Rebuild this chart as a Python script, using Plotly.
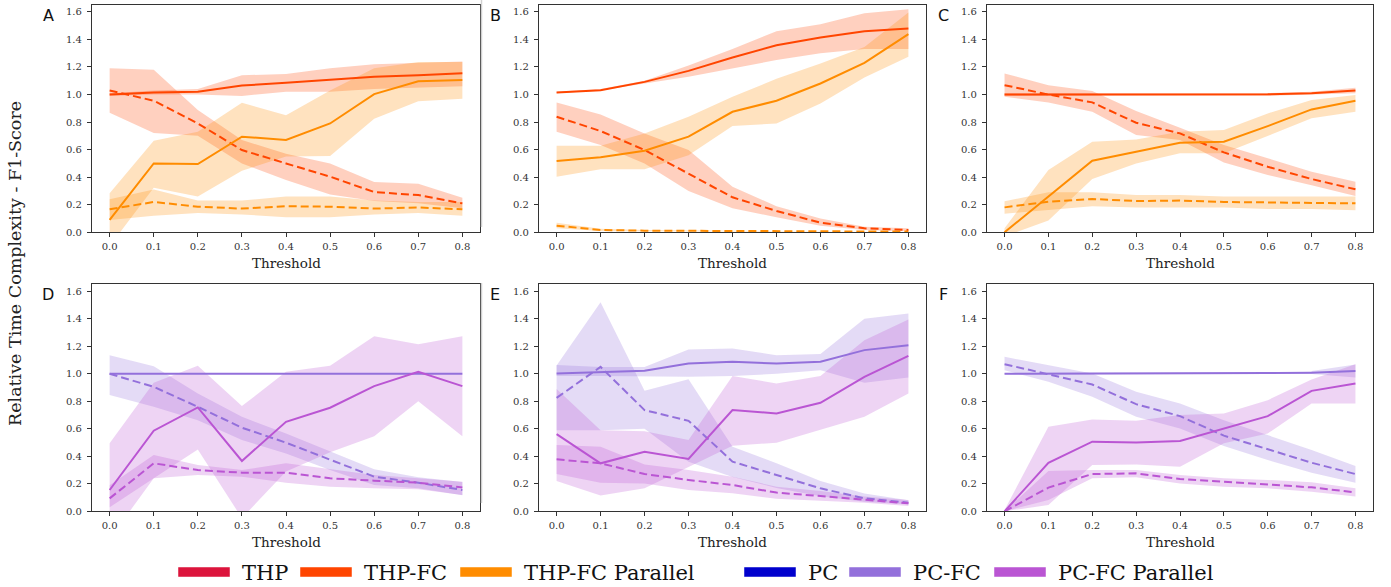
import plotly.graph_objects as go

# ---------------------------------------------------------------- data
THRESHOLDS = [0.0, 0.1, 0.2, 0.3, 0.4, 0.5, 0.6, 0.7, 0.8]
Y_TICKS = [0.0, 0.2, 0.4, 0.6, 0.8, 1.0, 1.2, 1.4, 1.6]
PANEL_LABELS = ["A", "B", "C", "D", "E", "F"]
LEGEND_NAMES = ["THP", "THP-FC", "THP-FC Parallel", "PC", "PC-FC", "PC-FC Parallel"]
X_TITLE = "Threshold"
Y_TITLE = "Relative Time Complexity - F1-Score"

# Panel A (THP)
A_FC_TIME = [1.00, 1.015, 1.02, 1.065, 1.085, 1.105, 1.13, 1.14, 1.155]
A_FC_TIME_LO = [0.99, 1.00, 1.00, 0.99, 1.02, 1.02, 1.04, 1.05, 1.06]
A_FC_TIME_HI = [1.01, 1.03, 1.04, 1.14, 1.15, 1.19, 1.22, 1.23, 1.24]
A_FC_F1 = [1.03, 0.955, 0.79, 0.597, 0.50, 0.404, 0.292, 0.27, 0.21]
A_FC_F1_LO = [0.868, 0.72, 0.70, 0.50, 0.38, 0.275, 0.227, 0.21, 0.175]
A_FC_F1_HI = [1.19, 1.18, 0.887, 0.67, 0.57, 0.50, 0.365, 0.353, 0.25]
A_PAR_TIME = [0.09, 0.50, 0.495, 0.694, 0.67, 0.79, 1.003, 1.097, 1.105]
A_PAR_TIME_LO = [-0.1, 0.324, 0.26, 0.447, 0.55, 0.553, 0.824, 0.952, 0.97]
A_PAR_TIME_HI = [0.283, 0.665, 0.73, 0.94, 0.85, 1.03, 1.19, 1.237, 1.237]
A_PAR_F1 = [0.167, 0.22, 0.186, 0.172, 0.189, 0.186, 0.172, 0.18, 0.167]
A_PAR_F1_LO = [0.09, 0.12, 0.14, 0.13, 0.11, 0.11, 0.13, 0.14, 0.12]
A_PAR_F1_HI = [0.24, 0.31, 0.23, 0.23, 0.26, 0.26, 0.23, 0.22, 0.22]

# Panel B (THP)
B_FC_TIME = [1.015, 1.032, 1.092, 1.172, 1.269, 1.358, 1.414, 1.46, 1.479]
B_FC_TIME_LO = [1.01, 1.03, 1.08, 1.13, 1.19, 1.25, 1.30, 1.33, 1.33]
B_FC_TIME_HI = [1.02, 1.04, 1.10, 1.21, 1.33, 1.46, 1.51, 1.59, 1.62]
B_FC_F1 = [0.839, 0.735, 0.597, 0.423, 0.254, 0.155, 0.07, 0.029, 0.017]
B_FC_F1_LO = [0.73, 0.633, 0.50, 0.30, 0.174, 0.109, 0.048, 0.017, 0.007]
B_FC_F1_HI = [0.943, 0.856, 0.718, 0.597, 0.33, 0.19, 0.10, 0.04, 0.03]
B_PAR_TIME = [0.517, 0.544, 0.592, 0.694, 0.875, 0.955, 1.08, 1.23, 1.438]
B_PAR_TIME_LO = [0.404, 0.457, 0.457, 0.56, 0.771, 0.79, 0.935, 1.124, 1.274]
B_PAR_TIME_HI = [0.628, 0.628, 0.718, 0.839, 0.984, 1.114, 1.225, 1.346, 1.595]
B_PAR_F1 = [0.048, 0.017, 0.012, 0.01, 0.008, 0.007, 0.006, 0.006, 0.005]
B_PAR_F1_LO = [0.03, 0.01, 0.008, 0.006, 0.005, 0.004, 0.004, 0.004, 0.003]
B_PAR_F1_HI = [0.07, 0.025, 0.016, 0.014, 0.011, 0.01, 0.009, 0.009, 0.008]

# Panel C (THP)
C_FC_TIME = [1.0, 1.0, 1.0, 1.0, 1.0, 1.0, 1.002, 1.01, 1.03]
C_FC_TIME_LO = [0.99, 0.99, 0.99, 0.99, 0.99, 0.99, 0.99, 1.0, 1.01]
C_FC_TIME_HI = [1.01, 1.01, 1.01, 1.01, 1.01, 1.01, 1.01, 1.02, 1.05]
C_FC_F1 = [1.068, 1.0, 0.943, 0.795, 0.718, 0.58, 0.476, 0.387, 0.312]
C_FC_F1_LO = [0.984, 0.943, 0.875, 0.706, 0.67, 0.507, 0.416, 0.341, 0.263]
C_FC_F1_HI = [1.153, 1.068, 1.025, 0.88, 0.759, 0.633, 0.537, 0.44, 0.367]
C_PAR_TIME = [0.0, 0.259, 0.52, 0.585, 0.65, 0.657, 0.771, 0.892, 0.955]
C_PAR_TIME_LO = [-0.03, 0.085, 0.387, 0.50, 0.573, 0.573, 0.698, 0.827, 0.875]
C_PAR_TIME_HI = [0.03, 0.452, 0.657, 0.674, 0.73, 0.742, 0.863, 0.96, 0.996]
C_PAR_F1 = [0.181, 0.222, 0.242, 0.227, 0.23, 0.22, 0.217, 0.215, 0.21]
C_PAR_F1_LO = [0.135, 0.16, 0.19, 0.18, 0.18, 0.18, 0.17, 0.17, 0.16]
C_PAR_F1_HI = [0.225, 0.29, 0.29, 0.27, 0.27, 0.26, 0.26, 0.26, 0.26]

# Panel D (PC)
D_FC_TIME = [1.0, 1.0, 1.0, 1.0, 1.0, 1.0, 1.0, 1.0, 1.0]
D_FC_TIME_LO = [1.0, 1.0, 1.0, 1.0, 1.0, 1.0, 1.0, 1.0, 1.0]
D_FC_TIME_HI = [1.0, 1.0, 1.0, 1.0, 1.0, 1.0, 1.0, 1.0, 1.0]
D_FC_F1 = [1.0, 0.905, 0.76, 0.608, 0.499, 0.373, 0.252, 0.208, 0.155]
D_FC_F1_LO = [0.845, 0.76, 0.663, 0.518, 0.421, 0.30, 0.191, 0.167, 0.116]
D_FC_F1_HI = [1.135, 1.055, 0.857, 0.687, 0.566, 0.433, 0.305, 0.247, 0.213]
D_PAR_TIME = [0.155, 0.586, 0.755, 0.366, 0.651, 0.753, 0.91, 1.014, 0.91]
D_PAR_TIME_LO = [-0.2, 0.24, 0.45, -0.05, 0.29, 0.43, 0.545, 0.80, 0.545]
D_PAR_TIME_HI = [0.494, 0.934, 1.058, 0.765, 1.014, 1.058, 1.273, 1.215, 1.273]
D_PAR_F1 = [0.094, 0.349, 0.30, 0.281, 0.281, 0.24, 0.223, 0.208, 0.174]
D_PAR_F1_LO = [0.03, 0.24, 0.264, 0.252, 0.208, 0.179, 0.167, 0.16, 0.119]
D_PAR_F1_HI = [0.19, 0.41, 0.336, 0.30, 0.349, 0.305, 0.264, 0.24, 0.215]

# Panel E (PC)
E_FC_TIME = [1.002, 1.014, 1.022, 1.075, 1.087, 1.075, 1.087, 1.172, 1.208]
E_FC_TIME_LO = [0.983, 0.983, 0.983, 0.978, 0.983, 1.0, 1.026, 0.934, 0.973]
E_FC_TIME_HI = [1.063, 1.05, 1.05, 1.176, 1.184, 1.135, 1.143, 1.40, 1.438]
E_FC_F1 = [0.825, 1.05, 0.736, 0.658, 0.361, 0.264, 0.167, 0.094, 0.063]
E_FC_F1_LO = [0.59, 0.59, 0.60, 0.36, 0.25, 0.17, 0.11, 0.07, 0.05]
E_FC_F1_HI = [1.06, 1.52, 0.876, 0.96, 0.47, 0.35, 0.22, 0.13, 0.08]
E_PAR_TIME = [0.561, 0.349, 0.433, 0.38, 0.736, 0.712, 0.789, 0.978, 1.13]
E_PAR_TIME_LO = [0.22, 0.114, 0.167, 0.324, 0.477, 0.499, 0.595, 0.687, 0.857]
E_PAR_TIME_HI = [0.89, 0.59, 0.583, 0.518, 0.983, 0.93, 0.983, 1.244, 1.394]
E_PAR_F1 = [0.378, 0.349, 0.271, 0.228, 0.191, 0.136, 0.111, 0.082, 0.058]
E_PAR_F1_LO = [0.271, 0.208, 0.203, 0.155, 0.131, 0.092, 0.077, 0.063, 0.039]
E_PAR_F1_HI = [0.482, 0.47, 0.341, 0.30, 0.252, 0.179, 0.148, 0.107, 0.082]

# Panel F (PC)
F_FC_TIME = [1.0, 1.0, 1.0, 1.0, 1.0, 1.002, 1.005, 1.008, 1.021]
F_FC_TIME_LO = [0.995, 0.995, 0.995, 0.995, 0.995, 0.997, 0.998, 0.998, 0.973]
F_FC_TIME_HI = [1.005, 1.005, 1.005, 1.005, 1.005, 1.007, 1.01, 1.02, 1.067]
F_FC_F1 = [1.07, 0.997, 0.922, 0.779, 0.692, 0.55, 0.45, 0.353, 0.271]
F_FC_F1_LO = [1.026, 0.942, 0.833, 0.687, 0.603, 0.474, 0.373, 0.281, 0.208]
F_FC_F1_HI = [1.123, 1.063, 1.002, 0.869, 0.784, 0.663, 0.554, 0.445, 0.329]
F_PAR_TIME = [0.0, 0.353, 0.506, 0.501, 0.511, 0.603, 0.692, 0.876, 0.93]
F_PAR_TIME_LO = [0.0, 0.046, 0.336, 0.341, 0.324, 0.494, 0.566, 0.784, 0.784]
F_PAR_TIME_HI = [0.01, 0.615, 0.668, 0.658, 0.70, 0.712, 0.808, 0.959, 1.07]
F_PAR_F1 = [0.0, 0.172, 0.271, 0.276, 0.235, 0.213, 0.196, 0.174, 0.138]
F_PAR_F1_LO = [0.0, 0.082, 0.24, 0.247, 0.203, 0.179, 0.167, 0.143, 0.107]
F_PAR_F1_HI = [0.0, 0.293, 0.30, 0.30, 0.264, 0.24, 0.228, 0.211, 0.167]

# ---------------------------------------------------------------- styling
W, H = 1391, 587
COLORS = {
    "THP": (220, 20, 60),
    "THP-FC": (255, 69, 0),
    "THP-FC Parallel": (255, 140, 0),
    "PC": (0, 0, 205),
    "PC-FC": (147, 112, 219),
    "PC-FC Parallel": (186, 85, 211),
}
SERIF = "DejaVu Serif"
SANS = "DejaVu Sans"
AXIS_COLOR = "#333333"

# plot-area boxes in pixels: (left, right) per column, (top, bottom) per row
COL_PX = [(92, 480), (539, 926), (987, 1373)]
ROW_PX = [(5, 232.3), (284.4, 511.3)]


def rgb(c, a=None):
    if a is None:
        return "rgb(%d,%d,%d)" % c
    return "rgba(%d,%d,%d,%.3f)" % (c + (a,))


def px_x(x):
    return x / W


def px_y(y):
    return 1 - y / H


panels = [
    ("THP", [(A_FC_TIME, A_FC_TIME_LO, A_FC_TIME_HI), (A_FC_F1, A_FC_F1_LO, A_FC_F1_HI),
             (A_PAR_TIME, A_PAR_TIME_LO, A_PAR_TIME_HI), (A_PAR_F1, A_PAR_F1_LO, A_PAR_F1_HI)]),
    ("THP", [(B_FC_TIME, B_FC_TIME_LO, B_FC_TIME_HI), (B_FC_F1, B_FC_F1_LO, B_FC_F1_HI),
             (B_PAR_TIME, B_PAR_TIME_LO, B_PAR_TIME_HI), (B_PAR_F1, B_PAR_F1_LO, B_PAR_F1_HI)]),
    ("THP", [(C_FC_TIME, C_FC_TIME_LO, C_FC_TIME_HI), (C_FC_F1, C_FC_F1_LO, C_FC_F1_HI),
             (C_PAR_TIME, C_PAR_TIME_LO, C_PAR_TIME_HI), (C_PAR_F1, C_PAR_F1_LO, C_PAR_F1_HI)]),
    ("PC", [(D_FC_TIME, D_FC_TIME_LO, D_FC_TIME_HI), (D_FC_F1, D_FC_F1_LO, D_FC_F1_HI),
            (D_PAR_TIME, D_PAR_TIME_LO, D_PAR_TIME_HI), (D_PAR_F1, D_PAR_F1_LO, D_PAR_F1_HI)]),
    ("PC", [(E_FC_TIME, E_FC_TIME_LO, E_FC_TIME_HI), (E_FC_F1, E_FC_F1_LO, E_FC_F1_HI),
            (E_PAR_TIME, E_PAR_TIME_LO, E_PAR_TIME_HI), (E_PAR_F1, E_PAR_F1_LO, E_PAR_F1_HI)]),
    ("PC", [(F_FC_TIME, F_FC_TIME_LO, F_FC_TIME_HI), (F_FC_F1, F_FC_F1_LO, F_FC_F1_HI),
            (F_PAR_TIME, F_PAR_TIME_LO, F_PAR_TIME_HI), (F_PAR_F1, F_PAR_F1_LO, F_PAR_F1_HI)]),
]

fig = go.Figure()
layout_axes = {}
annotations = []

for i, (family, series) in enumerate(panels):
    n = i + 1
    xa = "x" if n == 1 else "x%d" % n
    ya = "y" if n == 1 else "y%d" % n
    row, col = divmod(i, 3)
    (l, r), (t, b) = COL_PX[col], ROW_PX[row]

    names = [family + "-FC", family + "-FC", family + "-FC Parallel", family + "-FC Parallel"]
    dashes = ["solid", "8px,4px", "solid", "8px,4px"]

    # shaded spread bands first, lines on top
    for name, (mean, lo, hi) in zip(names, series):
        fig.add_trace(go.Scatter(
            x=THRESHOLDS + THRESHOLDS[::-1], y=hi + lo[::-1],
            fill="toself", fillcolor=rgb(COLORS[name], 0.25),
            line=dict(width=0), mode="lines", hoverinfo="skip",
            showlegend=False, xaxis=xa, yaxis=ya))
    for name, dash, (mean, lo, hi) in zip(names, dashes, series):
        fig.add_trace(go.Scatter(
            x=THRESHOLDS, y=mean, mode="lines", name=name,
            line=dict(color=rgb(COLORS[name]), width=2, dash=dash),
            showlegend=False, xaxis=xa, yaxis=ya))

    common = dict(
        showline=True, linecolor=AXIS_COLOR, linewidth=1.2, mirror=True,
        ticks="outside", ticklen=4, tickwidth=1, tickcolor=AXIS_COLOR,
        showgrid=False, zeroline=False, automargin=False,
        tickfont=dict(family=SERIF, size=10, color=AXIS_COLOR),
    )
    layout_axes["xaxis" if n == 1 else "xaxis%d" % n] = dict(
        common, domain=[px_x(l), px_x(r)], anchor=ya, range=[-0.04, 0.84],
        tickvals=THRESHOLDS, ticktext=["%.1f" % v for v in THRESHOLDS],
        ticklabelstandoff=1,
    )
    layout_axes["yaxis" if n == 1 else "yaxis%d" % n] = dict(
        common, domain=[px_y(b), px_y(t)], anchor=xa, range=[0, 1.65],
        tickvals=Y_TICKS, ticktext=["%.1f" % v for v in Y_TICKS],
        ticklabelstandoff=3,
    )
    # x-axis title under each panel
    annotations.append(dict(
        text=X_TITLE, xref="paper", yref="paper",
        x=px_x((l + r) / 2), y=px_y(b + 30.5), xanchor="center", yanchor="middle",
        showarrow=False, font=dict(family=SERIF, size=13.5, color="#222")))
    # panel letter
    annotations.append(dict(
        text=PANEL_LABELS[i], xref="paper", yref="paper",
        x=px_x(l - 44), y=px_y(t + 10), xanchor="center", yanchor="middle",
        showarrow=False, font=dict(family=SANS, size=16, color="#111")))

# shared y title
annotations.append(dict(
    text=Y_TITLE, xref="paper", yref="paper",
    x=px_x(15), y=px_y(264), xanchor="center", yanchor="middle", textangle=-90,
    showarrow=False, font=dict(family=SERIF, size=17.5, color="#222")))

# legend row along the bottom
shapes = []
legend_x = [178, 300, 460, 744, 849, 994]
for name, x0 in zip(LEGEND_NAMES, legend_x):
    shapes.append(dict(
        type="rect", xref="paper", yref="paper",
        x0=px_x(x0), x1=px_x(x0 + 52), y0=px_y(577), y1=px_y(567),
        fillcolor=rgb(COLORS[name]), line=dict(width=0.6, color="rgba(255,255,255,0.8)")))
    annotations.append(dict(
        text=name, xref="paper", yref="paper", x=px_x(x0 + 62), y=px_y(572.5),
        xanchor="left", yanchor="middle", showarrow=False,
        font=dict(family=SERIF, size=21, color="#111")))

# thin separators at the left of the middle column
for y0, y1 in [(0, 227), (283, 503)]:
    shapes.append(dict(type="line", xref="paper", yref="paper",
                       x0=px_x(481.5), x1=px_x(481.5), y0=px_y(y1), y1=px_y(y0),
                       line=dict(color="#d0d0d0", width=1.5)))

fig.update_layout(
    width=W, height=H, margin=dict(l=0, r=0, t=0, b=0),
    paper_bgcolor="white", plot_bgcolor="white",
    showlegend=False, annotations=annotations, shapes=shapes,
    **layout_axes,
)

fig.write_html("out.html")
